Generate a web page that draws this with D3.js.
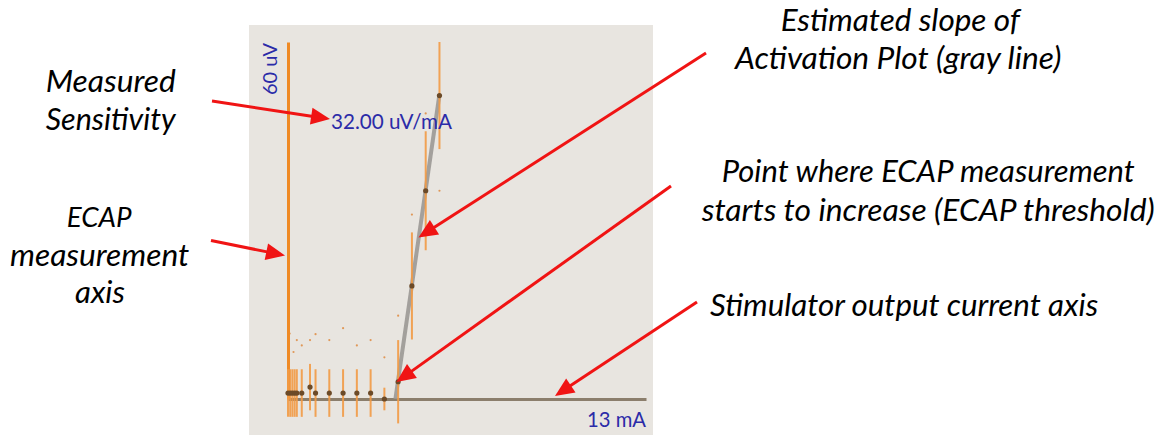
<!DOCTYPE html>
<html>
<head>
<meta charset="utf-8">
<script src="https://cdn.jsdelivr.net/npm/d3@7"></script>
<style>
html,body{margin:0;padding:0;background:#fff;}
svg{display:block;}
</style>
</head>
<body>
<svg id="chart" width="1161" height="435"></svg>
<script>
// ---- data (current in mA, ECAP in uV) ----
const currents  = [0, 0.08, 0.16, 0.24, 0.32, 0.5, 0.8, 1.0, 1.5, 2.0, 2.5, 3.0, 3.5, 4.0, 4.5, 5.0, 5.5];
const ecapMean  = [1, 1, 1, 1, 1, 1, 2, 1, 1, 1, 1, 1, 0, 2.9, 19, 35, 51];
const ecapErr   = [4, 4, 4, 4, 4, 4, 3.9, 4, 4, 4, 4, 4, 1.9, 7, 9, 10, 9];
const sampleX   = [0.06, 0.2, 0.32, 0.5, 0.8, 1.0, 1.5, 2.0, 2.5, 3.0, 3.5, 4.0, 4.5, 5.0, 5.5];
const sampleY   = [11, 7.9, 9.9, 9, 9.9, 10.9, 9.9, 11.9, 9, 9.9, 7, 14, 31, 48, 35];
const fitX      = [3.9, 5.5];
const fitY      = [0, 51.2];
const xMax = 13, yMax = 60;
const xLabel = "13 mA", yLabel = "60 uV", slopeLabel = "32.00 uV/mA";

const svg = d3.select("#chart");

// panel background
svg.append("rect").attr("x",249).attr("y",25).attr("width",404).attr("height",410).attr("fill","#e8e5e0");

const x = d3.scaleLinear().domain([0, xMax]).range([288, 646]);
const y = d3.scaleLinear().domain([0, yMax]).range([399, 42]);

// small sample dots
svg.append("g").selectAll("circle").data(sampleX).join("circle")
  .attr("cx",(d)=>x(d)).attr("cy",(d,i)=>y(sampleY[i])).attr("r",1.1)
  .attr("fill","#e09858");

// x axis (stimulator current)
const xa = svg.append("g").attr("transform",`translate(0,${y(0)})`)
  .call(d3.axisBottom(x).tickValues([]).tickSizeOuter(0));
xa.select(".domain").attr("stroke","#8b7e6c").attr("stroke-width",3);

// y axis (ECAP)
const ya = svg.append("g").attr("transform",`translate(${x(0)},0)`)
  .call(d3.axisLeft(y).tickValues([]).tickSizeOuter(0));
ya.select(".domain").attr("stroke","#ef8a25").attr("stroke-width",3);

// fit line (gray)
svg.append("line")
  .attr("x1",x(fitX[0])).attr("y1",y(fitY[0])).attr("x2",x(fitX[1])).attr("y2",y(fitY[1]))
  .attr("stroke","#9b9895").attr("stroke-width",4).attr("stroke-opacity",0.9);

// error bars
svg.append("g").selectAll("line").data(currents).join("line")
  .attr("x1",d=>x(d)).attr("x2",d=>x(d))
  .attr("y1",(d,i)=>y(ecapMean[i]-ecapErr[i])).attr("y2",(d,i)=>y(ecapMean[i]+ecapErr[i]))
  .attr("stroke","#f29a45").attr("stroke-width",2).attr("stroke-opacity",0.9);

// mean dots
svg.append("g").selectAll("circle").data(currents).join("circle")
  .attr("cx",d=>x(d)).attr("cy",(d,i)=>y(ecapMean[i])).attr("r",2.6)
  .attr("fill","#6b4a28");

// fit text helper
function fit(t, target){
  const base = parseFloat(t.attr("font-size"));
  const w = t.node().getComputedTextLength();
  if (w>0) t.attr("font-size", base*target/w);
}

// axis labels (blue)
const blue = "#2b2ba8";
const fam = "Lato,'Noto Sans',sans-serif";
let t = svg.append("text").attr("x",646).attr("y",427).attr("text-anchor","end")
  .attr("font-family",fam).attr("font-size",18).attr("fill",blue).text(xLabel);
fit(t,59);
t = svg.append("text").attr("transform","translate(277,43) rotate(-90)").attr("text-anchor","end")
  .attr("font-family",fam).attr("font-size",18).attr("fill",blue).text(yLabel);
fit(t,52);
t = svg.append("text").attr("x",331).attr("y",129)
  .attr("font-family",fam).attr("font-size",18).attr("fill",blue).text(slopeLabel);
fit(t,121);

// annotations
const notes = [
  {x:45.7, y:92, w:130, s:"Measured"},
  {x:45.7, y:130, w:130, s:"Sensitivity"},
  {x:66.7, y:226.7, w:65, s:"ECAP"},
  {x:10, y:266, w:179.3, s:"measurement"},
  {x:75, y:303.3, w:50, s:"axis"},
  {x:780.7, y:31, w:239.3, s:"Estimated slope of"},
  {x:735, y:69, w:326.7, s:"Activation Plot (gray line)"},
  {x:721.7, y:181.7, w:413.3, s:"Point where ECAP measurement"},
  {x:701.7, y:220.7, w:453.3, s:"starts to increase (ECAP threshold)"},
  {x:710, y:315.7, w:388.3, s:"Stimulator output current axis"}
];
notes.forEach(n=>{
  const tt = svg.append("text").attr("x",n.x).attr("y",n.y)
    .attr("font-family","Lato,'Open Sans',sans-serif").attr("font-style","italic")
    .attr("font-size",28).attr("fill","#000").text(n.s);
  fit(tt,n.w);
});

// arrows
const arrows = [
  [212,101,330,119],
  [211,240.5,285,255.5],
  [706,53,418.5,237.5],
  [671,186,396.5,382],
  [697,302,555,396]
];
const red = "#f01414";
arrows.forEach(a=>{
  const [x1,y1,x2,y2]=a;
  const dx=x2-x1, dy=y2-y1, L=Math.hypot(dx,dy), ux=dx/L, uy=dy/L;
  const hl=19, hw=8.5;
  const bx=x2-ux*hl, by=y2-uy*hl;
  svg.append("line").attr("x1",x1).attr("y1",y1).attr("x2",bx+ux*2).attr("y2",by+uy*2)
    .attr("stroke",red).attr("stroke-width",3);
  svg.append("polygon")
    .attr("points",`${x2},${y2} ${bx-uy*hw},${by+ux*hw} ${bx+uy*hw},${by-ux*hw}`)
    .attr("fill",red);
});
</script>
</body>
</html>
